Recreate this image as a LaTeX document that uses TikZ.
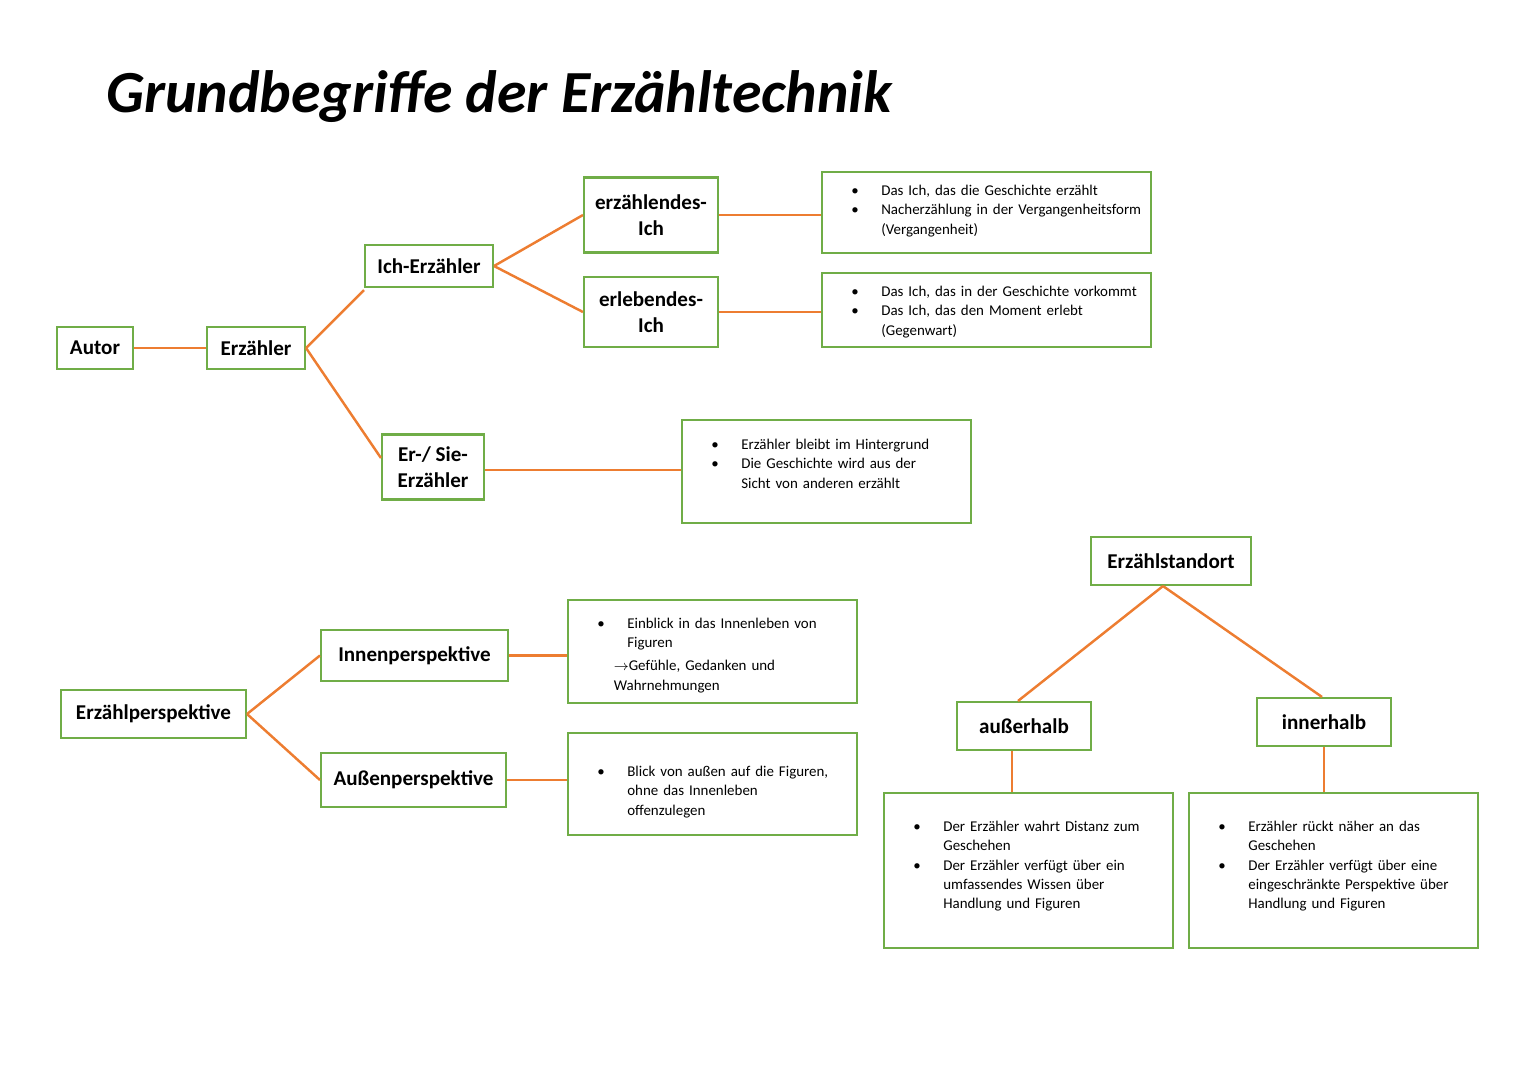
\documentclass[tikz,border=0pt]{standalone}
\usepackage{fontspec}
\setmainfont{Carlito}
\usepackage{enumitem}
\setlist[itemize]{nosep,leftmargin=0.7cm,labelsep=0.45cm,label=\textbullet}
\definecolor{boxgreen}{RGB}{112,173,71}
\definecolor{lineorange}{RGB}{237,125,49}
\tikzset{
  box/.style={draw=boxgreen, line width=1.2pt, inner sep=0pt, font=\bfseries\fontsize{12}{14.5}\selectfont, align=center},
  link/.style={draw=lineorange, line width=1.4pt},
  note/.style={anchor=north west, inner sep=0pt, font=\fontsize{8.5}{11}\selectfont, align=left}
}
\begin{document}
\begin{tikzpicture}[x=0.02cm, y=-0.02cm]
  \useasboundingbox (0,0) rectangle (1527,1080);
  \node[anchor=west, font=\fontsize{34}{40}\selectfont\bfseries\itshape] (title) at (100,97) {Grundbegriffe der Erzähltechnik};

  % Erzaehler tree
  \node[box, minimum width=1.52cm, minimum height=0.84cm] (autor) at (95,348) {Autor};
  \node[box, minimum width=1.96cm, minimum height=0.84cm] (erz) at (256,348) {Erzähler};
  \node[box, minimum width=2.56cm, minimum height=0.84cm] (ich) at (429,266) {Ich-Erzähler};
  \node[box, minimum width=2.04cm, minimum height=1.3cm] (ersie) at (433,467) {Er-/ Sie-\\Erzähler};
  \node[box, minimum width=2.68cm, minimum height=1.5cm] (erzich) at (651,215) {erzählendes-\\Ich};
  \node[box, minimum width=2.68cm, minimum height=1.4cm] (erlich) at (651,312) {erlebendes-\\Ich};

  \node[box, minimum width=6.58cm, minimum height=1.62cm] (b1) at (986.5,212.5) {};
  \node[box, minimum width=6.58cm, minimum height=1.48cm] (b2) at (986.5,310) {};
  \node[box, minimum width=5.78cm, minimum height=2.06cm] (b3) at (826.5,471.5) {};

  \node[note, text width=6cm] at ([xshift=0.5cm, yshift=-0.1cm]b1.north west) {\begin{itemize}
    \item Das Ich, das die Geschichte erzählt
    \item Nacherzählung in der Vergangenheitsform (Vergangenheit)\end{itemize}};
  \node[note, text width=6cm] at ([xshift=0.5cm, yshift=-0.1cm]b2.north west) {\begin{itemize}
    \item Das Ich, das in der Geschichte vorkommt
    \item Das Ich, das den Moment erlebt (Gegenwart)\end{itemize}};
  \node[note, text width=4.8cm] at ([xshift=0.5cm, yshift=-0.22cm]b3.north west) {\begin{itemize}
    \item Erzähler bleibt im Hintergrund
    \item Die Geschichte wird aus der Sicht von anderen erzählt\end{itemize}};

  \coordinate (ersieout) at ([yshift=-0.06cm]ersie.east);
  \draw[link] (autor) -- (erz);
  \draw[link] (erz.east) -- ([yshift=-0.04cm]ich.south west);
  \draw[link] (erz.east) -- ([yshift=0.18cm]ersie.west);
  \draw[link] (ich.east) -- (erzich.west);
  \draw[link] (ich.east) -- (erlich.west);
  \draw[link] (erzich.east) -- (b1.west |- erzich.east);
  \draw[link] (erlich.east) -- (b2.west |- erlich.east);
  \draw[link] (ersieout) -- (b3.west |- ersieout);

  % Erzaehlperspektive
  \node[box, minimum width=3.7cm, minimum height=0.96cm] (persp) at (153.5,714) {Erzählperspektive};
  \node[box, minimum width=3.74cm, minimum height=1.02cm] (innen) at (414.5,655.5) {Innenperspektive};
  \node[box, minimum width=3.7cm, minimum height=1.08cm] (aussen) at (413.5,780) {Außenperspektive};
  \node[box, minimum width=5.78cm, minimum height=2.06cm] (b6) at (712.5,651.5) {};
  \node[box, minimum width=5.78cm, minimum height=2.04cm] (b7) at (712.5,784) {};
  \node[note, text width=4.8cm] at ([xshift=0.5cm, yshift=-0.2cm]b6.north west) {\begin{itemize}
    \item Einblick in das Innenleben von Figuren\end{itemize}};
  \node[note, text width=5cm] at ([xshift=0.93cm, yshift=-1.22cm]b6.north west) {$\rightarrow$Gefühle, Gedanken und\\Wahrnehmungen};
  \node[note, text width=4.8cm] at ([xshift=0.5cm, yshift=-0.5cm]b7.north west) {\begin{itemize}
    \item Blick von außen auf die Figuren, ohne das Innenleben offenzulegen\end{itemize}};

  \draw[link] (persp.east) -- (innen.west);
  \draw[link] (persp.east) -- (aussen.west);
  \draw[link] (innen.east) -- (b6.west |- innen.east);
  \draw[link] (aussen.east) -- (b7.west |- aussen.east);

  % Erzaehlstandort
  \node[box, minimum width=3.2cm, minimum height=0.96cm] (stand) at (1171,561) {Erzählstandort};
  \node[box, minimum width=2.68cm, minimum height=0.96cm] (ausser) at (1024,726) {außerhalb};
  \node[box, minimum width=2.68cm, minimum height=0.96cm] (inner) at (1324,722) {innerhalb};
  \node[box, minimum width=5.78cm, minimum height=3.1cm] (b4) at (1028.5,870.5) {};
  \node[box, minimum width=5.78cm, minimum height=3.1cm] (b5) at (1333.5,870.5) {};
  \node[note, text width=4.9cm] at ([xshift=0.5cm, yshift=-0.4cm]b4.north west) {\begin{itemize}
    \item Der Erzähler wahrt Distanz zum Geschehen
    \item Der Erzähler verfügt über ein umfassendes Wissen über Handlung und Figuren\end{itemize}};
  \node[note, text width=4.9cm] at ([xshift=0.5cm, yshift=-0.4cm]b5.north west) {\begin{itemize}
    \item Erzähler rückt näher an das Geschehen
    \item Der Erzähler verfügt über eine eingeschränkte Perspektive über Handlung und Figuren\end{itemize}};

  \coordinate (ausserout) at ([xshift=-0.24cm]ausser.south);
  \draw[link] ([xshift=-0.16cm]stand.south) -- ([xshift=-0.12cm]ausser.north);
  \draw[link] ([xshift=-0.16cm]stand.south) -- ([xshift=-0.04cm]inner.north);
  \draw[link] (ausserout) -- (ausserout |- b4.north);
  \draw[link] (inner.south) -- (inner.south |- b5.north);
\end{tikzpicture}
\end{document}
